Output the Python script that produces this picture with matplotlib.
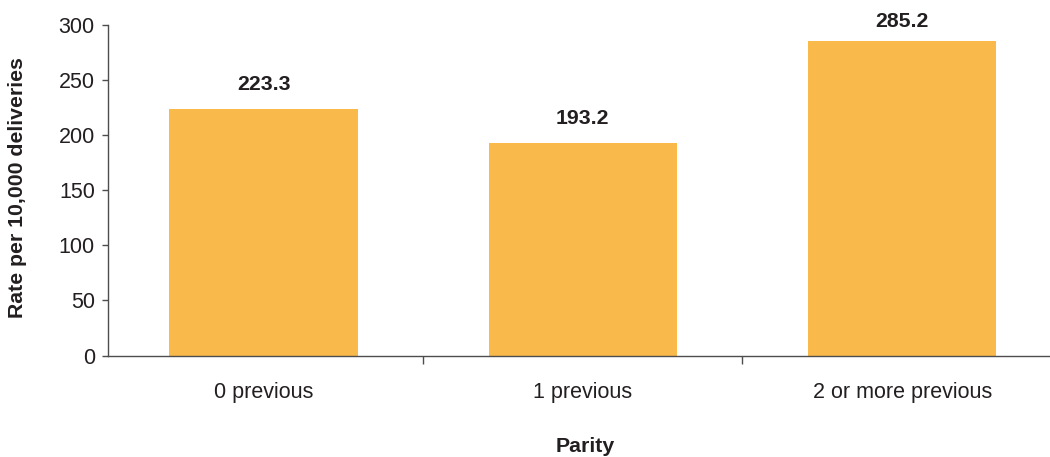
import matplotlib
matplotlib.use("Agg")
import matplotlib.pyplot as plt
from matplotlib.ticker import FixedLocator, NullFormatter

categories = ["0 previous", "1 previous", "2 or more previous"]
rates = [223.3, 193.2, 285.2]
yticks = [0, 50, 100, 150, 200, 250, 300]

plt.rcParams["font.family"] = ["Liberation Sans", "DejaVu Sans"]
text_color = "#231f20"
bar_color = "#f9b94b"
axis_color = "#4d4d4d"

fig = plt.figure(figsize=(10.5, 4.57), dpi=100)
ax = fig.add_axes([108 / 1050, 1 - 355.5 / 457, 1 - 108 / 1050, (355.5 - 25) / 457])

x = list(range(len(categories)))
bars = ax.bar(x, rates, width=0.59, color=bar_color, zorder=2)

# value labels above the bars; the tallest one sits closer so it stays on the canvas
label_gaps = [19, 19, 14]
for rect, val, gap in zip(bars, rates, label_gaps):
    ax.annotate(f"{val:.1f}", (rect.get_x() + rect.get_width() / 2, val),
                xytext=(0, gap), textcoords="offset pixels",
                ha="center", va="baseline", fontsize=15.3, fontweight="bold",
                color=text_color)

ax.set_xlim(-0.487, 2.463)
ax.set_ylim(0, 300)
ax.set_yticks(yticks)

# category boundaries as tick marks, category names centred under the bars
ax.xaxis.set_major_locator(FixedLocator([0.5, 1.5]))
ax.xaxis.set_major_formatter(NullFormatter())
ax.xaxis.set_minor_locator(FixedLocator(x))
ax.set_xticklabels(categories, minor=True)
ax.tick_params(axis="x", which="major", length=6, width=1, color=axis_color, direction="out")
ax.tick_params(axis="x", which="minor", length=0, pad=19, labelsize=15.5, labelcolor=text_color)
ax.tick_params(axis="y", length=4, width=1, color=axis_color, pad=5.5,
               labelsize=15.5, labelcolor=text_color)

for side in ("top", "right"):
    ax.spines[side].set_visible(False)
for side in ("left", "bottom"):
    ax.spines[side].set_color(axis_color)
    ax.spines[side].set_linewidth(1)

fig.text(18 / 1050, 1 - 188 / 457, "Rate per 10,000 deliveries", rotation=90,
         ha="center", va="center", fontsize=15.3, fontweight="bold", color=text_color)
fig.text(585 / 1050, 1 - 447 / 457, "Parity", ha="center", va="center",
         fontsize=15.3, fontweight="bold", color=text_color)

fig.savefig("out.png", dpi=100)
